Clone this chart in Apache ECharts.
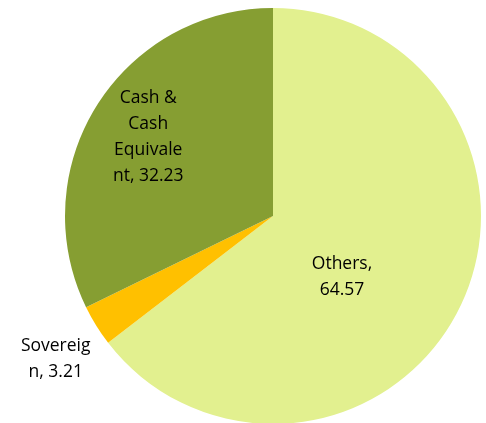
<!DOCTYPE html>
<html>
<head>
  <meta charset="UTF-8">
  <script src="https://cdn.jsdelivr.net/npm/echarts@6/dist/echarts.min.js"></script>
</head>
<style type="text/css">
    html,body {padding: 0; margin: 0; background: #fff;}
    #chart {width: 486px; height: 423px;}
</style>
<body>
  <div id="chart"></div>
  <script type="text/javascript">
    var names = ['Others', 'Sovereign', 'Cash & Cash Equivalent'];
    var values = [64.57, 3.21, 32.23];
    var labels = ['Others,\n64.57', 'Sovereig\nn, 3.21', 'Cash &\nCash\nEquivale\nnt, 32.23'];
    var colors = ['#e2f08f', '#ffc000', '#869e32'];

    // label nudges to mimic the original placement
    var shifts = [[-27, 14], [-27, 28], [-34, -22]];

    var data = names.map(function (n, i) {
      return {
        name: n,
        value: values[i],
        itemStyle: {color: colors[i]},
        label: {
          formatter: labels[i],
          position: i == 1 ? 'outside' : 'inside'
        },
        labelLine: {show: false}
      };
    });

    var myChart = echarts.init(document.getElementById('chart'));
    myChart.setOption({
      animation: false,
      series: [{
        type: 'pie',
        center: [273, 216],
        radius: 208,
        startAngle: 90,
        clockwise: true,
        data: data,
        label: {
          color: '#000',
          fontFamily: 'Open Sans',
          fontSize: 17.5,
          lineHeight: 26,
          align: 'center'
        },
        labelLine: {show: false, length: 10, length2: 0},
        labelLayout: function (p) {
          var s = shifts[p.dataIndex];
          return {dx: s[0], dy: s[1], align: 'center'};
        }
      }]
    });
  </script>
</body>
</html>
